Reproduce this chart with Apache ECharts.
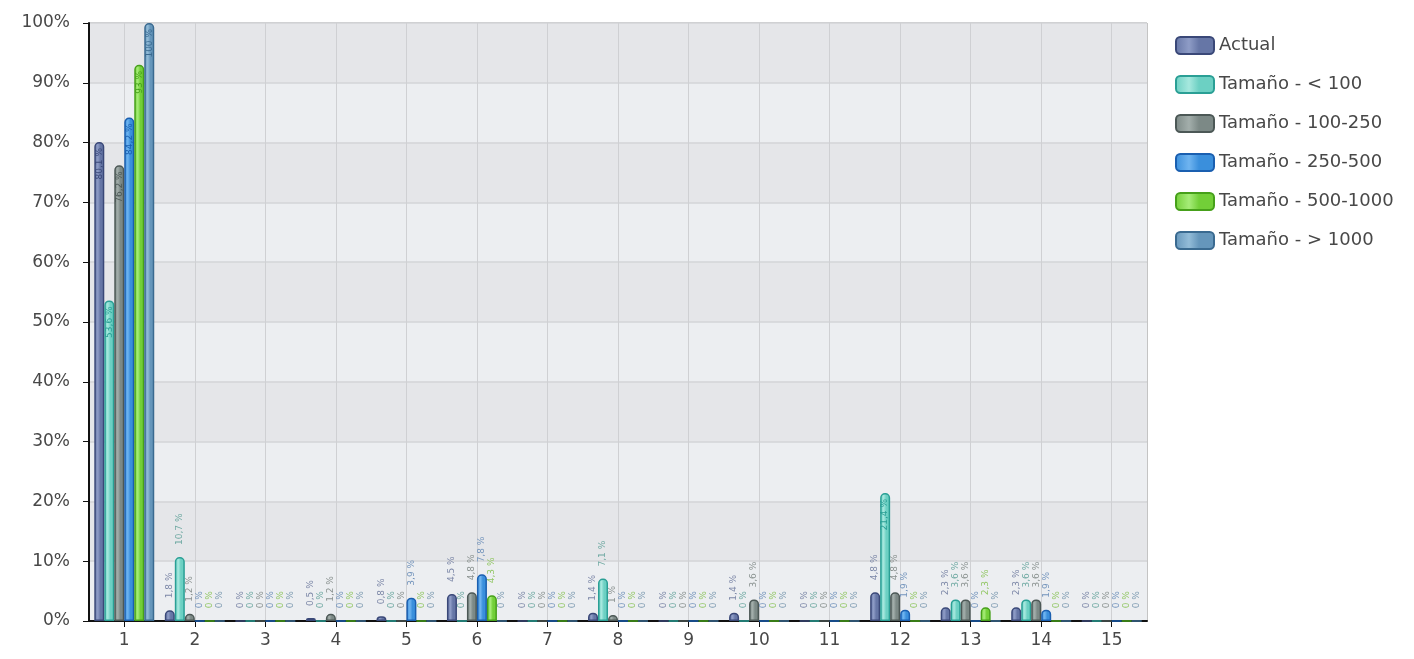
<!DOCTYPE html>
<html>
<head>
<meta charset="UTF-8">
<title>Tamaño</title>
<script src="https://cdn.jsdelivr.net/npm/echarts@6/dist/echarts.min.js"></script>
<style>
html, body { margin: 0; padding: 0; background: #fff; }
#main { width: 1414px; height: 659px; }
</style>
</head>
<body>
<div id="main"></div>
<script>
// categorias del eje x
var categories = ['1', '2', '3', '4', '5', '6', '7', '8', '9', '10', '11', '12', '13', '14', '15'];
var seriesNames = ['Actual', 'Tamaño - < 100', 'Tamaño - 100-250', 'Tamaño - 250-500', 'Tamaño - 500-1000', 'Tamaño - > 1000'];

// valores en %
var actual   = [80.1, 1.8, 0, 0.5, 0.8, 4.5, 0, 1.4, 0, 1.4, 0, 4.8, 2.3, 2.3, 0];
var menos100 = [53.6, 10.7, 0, 0, 0, 0, 0, 7.1, 0, 0, 0, 21.4, 3.6, 3.6, 0];
var t100_250 = [76.2, 1.2, 0, 1.2, 0, 4.8, 0, 1.0, 0, 3.6, 0, 4.8, 3.6, 3.6, 0];
var t250_500 = [84.2, 0, 0, 0, 3.9, 7.8, 0, 0, 0, 0, 0, 1.9, 0, 1.9, 0];
var t500_1000 = [93.0, 0, 0, 0, 0, 4.3, 0, 0, 0, 0, 0, 0, 2.3, 0, 0];
var mas1000  = [100, 0, 0, 0, 0, 0, 0, 0, 0, 0, 0, 0, 0, 0, 0];

var yTicks = { min: 0, max: 100, interval: 10 };

var allData = [actual, menos100, t100_250, t250_500, t500_1000, mas1000];

// colores: relleno claro, relleno, borde, etiqueta
var colors = [
	['#8e9cc6', '#6676a6', '#3a4878', '#7d88a8'],
	['#a6e8de', '#6cd0c3', '#2a9f95', '#6fa9a2'],
	['#a3aeab', '#7c8986', '#4c5856', '#8a9290'],
	['#6fb4f0', '#3a8fdc', '#1a5fb0', '#7394bc'],
	['#a6ec78', '#72cf38', '#46a01a', '#93c766'],
	['#93bcd8', '#6596bb', '#3a6a90', '#7f9cb2']
];

var myChart = echarts.init(document.getElementById('main'));

function fmt(v) {
	return String(v).replace('.', ',') + ' %';
}

var series = [];
for (var i = 0; i < allData.length; i++) {
	var c = colors[i];
	var data = [];
	for (var j = 0; j < allData[i].length; j++) {
		var v = allData[i][j];
		if (v > 15) {
			// etiqueta dentro de la barra
			data.push({ value: v, label: { position: 'insideTop', align: 'right', distance: 6, color: c[2] } });
		} else {
			data.push({ value: v });
		}
	}
	series.push({
		name: seriesNames[i],
		type: 'bar',
		barGap: '0%',
		barCategoryGap: '15%',
		data: data,
		itemStyle: {
			color: new echarts.graphic.LinearGradient(0, 0, 1, 0, [
				{ offset: 0, color: c[1] },
				{ offset: 0.35, color: c[0] },
				{ offset: 0.6, color: c[1] },
				{ offset: 1, color: c[1] }
			]),
			borderColor: c[2],
			borderWidth: 1.5,
			borderRadius: [4, 4, 0, 0]
		},
		label: {
			show: true,
			position: 'top',
			rotate: 90,
			align: 'left',
			verticalAlign: 'middle',
			distance: 12,
			fontSize: 9,
			fontFamily: 'DejaVu Sans',
			color: c[3],
			formatter: function (p) { return fmt(p.value); }
		}
	});
}

var option = {
	animation: false,
	backgroundColor: '#fff',
	grid: {
		left: 89,
		top: 23,
		right: 267,
		bottom: 38,
		show: true,
		backgroundColor: '#e8e9ec',
		borderColor: '#8a8a8a',
		borderWidth: 1
	},
	legend: {
		orient: 'vertical',
		left: 1170,
		top: 31,
		itemWidth: 38,
		itemHeight: 17,
		itemGap: 20,
		icon: 'roundRect',
		data: seriesNames,
		textStyle: {
			fontSize: 18,
			fontFamily: 'DejaVu Sans',
			color: '#484848'
		}
	},
	xAxis: {
		type: 'category',
		data: categories,
		axisLine: { show: true, lineStyle: { color: '#111', width: 2 } },
		axisTick: { show: true, alignWithLabel: true, length: 6, lineStyle: { color: '#111' } },
		axisLabel: { fontSize: 17, fontFamily: 'DejaVu Sans', color: '#484848', margin: 11 },
		splitLine: { show: true, alignWithLabel: true, lineStyle: { color: '#cfd0d3', width: 1 } }
	},
	yAxis: {
		type: 'value',
		min: yTicks.min,
		max: yTicks.max,
		interval: yTicks.interval,
		axisLine: { show: true, lineStyle: { color: '#111', width: 2 } },
		axisTick: { show: true, length: 6, lineStyle: { color: '#111' } },
		axisLabel: {
			fontSize: 17,
			fontFamily: 'DejaVu Sans',
			color: '#484848',
			margin: 19,
			formatter: '{value}%'
		},
		splitLine: { show: true, lineStyle: { color: '#d3d4d7', width: 1.5 } },
		splitArea: { show: true, areaStyle: { color: ['#eceef1', '#e5e6e9'] } }
	},
	series: series
};

myChart.setOption(option);
</script>
</body>
</html>
